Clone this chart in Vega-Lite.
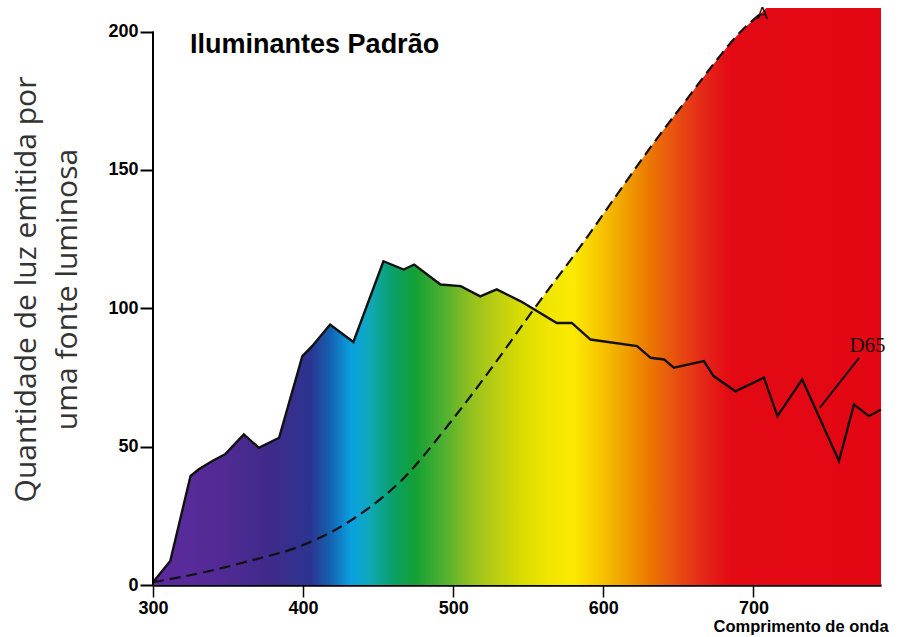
{
  "$schema": "https://vega.github.io/schema/vega-lite/v6.json",
  "width": 728,
  "height": 577,
  "autosize": "none",
  "padding": {"left": 153, "top": 8, "right": 20, "bottom": 52},
  "background": "white",
  "config": {"view": {"stroke": null}},
  "datasets": {
    "d65": [
      {"nm": 300, "v": 1}, {"nm": 311.5, "v": 8.7}, {"nm": 325, "v": 39.4}, {"nm": 330.5, "v": 41.8},
      {"nm": 339.5, "v": 44.8}, {"nm": 348, "v": 47.2}, {"nm": 360.5, "v": 54.4}, {"nm": 370.5, "v": 49.6},
      {"nm": 384, "v": 53.2}, {"nm": 399.5, "v": 82.7}, {"nm": 406, "v": 86.3}, {"nm": 418, "v": 94.1},
      {"nm": 433.5, "v": 87.8}, {"nm": 453.5, "v": 117}, {"nm": 467, "v": 114}, {"nm": 474, "v": 115.8},
      {"nm": 491.5, "v": 108.6}, {"nm": 505, "v": 108}, {"nm": 518, "v": 104.3}, {"nm": 529, "v": 106.8},
      {"nm": 545, "v": 102.5}, {"nm": 569, "v": 94.7}, {"nm": 579, "v": 94.7}, {"nm": 591.5, "v": 88.7},
      {"nm": 622.5, "v": 86.3}, {"nm": 631.5, "v": 82.1}, {"nm": 640.5, "v": 81.5}, {"nm": 647, "v": 78.5},
      {"nm": 667, "v": 80.9}, {"nm": 673.5, "v": 75.5}, {"nm": 688, "v": 70}, {"nm": 707, "v": 74.9},
      {"nm": 716, "v": 61}, {"nm": 732.5, "v": 74.3}, {"nm": 757, "v": 44.8}, {"nm": 767, "v": 65.2},
      {"nm": 777, "v": 61}, {"nm": 785, "v": 63.4}
    ],
    "a": [
      {"nm": 300, "v": 1}, {"nm": 331.5, "v": 4.3}, {"nm": 365, "v": 8.8}, {"nm": 398, "v": 14},
      {"nm": 420, "v": 19.5}, {"nm": 442.5, "v": 27.3}, {"nm": 465, "v": 37.5}, {"nm": 498, "v": 58.7},
      {"nm": 525, "v": 78}, {"nm": 553.5, "v": 99.5}, {"nm": 587, "v": 124}, {"nm": 609, "v": 141},
      {"nm": 631.5, "v": 158.2}, {"nm": 653.5, "v": 174}, {"nm": 676, "v": 190}, {"nm": 689, "v": 198.5},
      {"nm": 705, "v": 206.6}, {"nm": 740, "v": 226}, {"nm": 785, "v": 246}
    ]
  },
  "encoding": {
    "x": {
      "field": "nm", "type": "quantitative",
      "scale": {"domain": [300, 785], "nice": false, "zero": false},
      "axis": {
        "values": [300, 400, 500, 600, 700],
        "title": "Comprimento de onda",
        "titleX": 560, "titleY": 41, "titleAlign": "left", "titleBaseline": "middle",
        "titleFont": "Liberation Sans", "titleFontSize": 16.5, "titleFontWeight": "bold", "titleColor": "black",
        "labelFont": "Liberation Sans", "labelFontSize": 18, "labelFontWeight": "bold", "labelColor": "black",
        "labelPadding": 2, "tickSize": 12, "tickWidth": 1.5, "tickColor": "black",
        "domainColor": "black", "domainWidth": 2.5, "grid": false,
        "labelFlush": false, "labelOverlap": false,
        "encode": {"labels": {"update": {"dx": {"signal": "datum.value === 300 ? 5 : 0"}}}}
      }
    },
    "y": {
      "field": "v", "type": "quantitative",
      "scale": {"domain": [0, 208.5], "nice": false, "zero": false},
      "axis": {
        "values": [0, 50, 100, 150, 200],
        "title": ["Quantidade de luz emitida por", "uma fonte luminosa"],
        "titleFont": "Open Sans", "titleFontSize": 30, "titleFontWeight": "normal", "titleColor": "#333333",
        "titleLineHeight": 41, "titleX": -127, "titleY": 281, "titleAlign": "center", "titleBaseline": "middle",
        "labelFont": "Liberation Sans", "labelFontSize": 18, "labelFontWeight": "bold", "labelColor": "black",
        "labelPadding": 2, "tickSize": 13, "tickWidth": 2, "tickColor": "black",
        "domain": false, "grid": false, "labelFlush": false, "labelOverlap": false
      }
    }
  },
  "layer": [
    {
      "data": {"name": "a"},
      "mark": {
        "type": "area", "clip": true, "interpolate": "monotone",
        "color": {
          "gradient": "linear", "x1": 0, "x2": 1, "y1": 0, "y2": 0,
          "stops": [
            {"offset": 0, "color": "#5b2b9c"}, {"offset": 0.082, "color": "#542a96"},
            {"offset": 0.165, "color": "#3e2a8a"}, {"offset": 0.216, "color": "#2c3490"},
            {"offset": 0.243, "color": "#1560b0"}, {"offset": 0.272, "color": "#0aa0e0"},
            {"offset": 0.295, "color": "#10a8c0"}, {"offset": 0.326, "color": "#0aa070"},
            {"offset": 0.359, "color": "#12a035"}, {"offset": 0.400, "color": "#50b030"},
            {"offset": 0.435, "color": "#90c020"}, {"offset": 0.476, "color": "#c0d010"},
            {"offset": 0.505, "color": "#d8dc00"}, {"offset": 0.542, "color": "#f0e600"},
            {"offset": 0.577, "color": "#fcea00"}, {"offset": 0.612, "color": "#f8c800"},
            {"offset": 0.649, "color": "#f0a000"}, {"offset": 0.680, "color": "#ec7a00"},
            {"offset": 0.718, "color": "#e85010"}, {"offset": 0.755, "color": "#e42818"},
            {"offset": 0.792, "color": "#e30a14"}, {"offset": 1, "color": "#e30613"}
          ]
        }
      }
    },
    {
      "data": {"name": "d65"},
      "mark": {
        "type": "area", "clip": true,
        "color": {
          "gradient": "linear", "x1": 0, "x2": 1, "y1": 0, "y2": 0,
          "stops": [
            {"offset": 0, "color": "#5b2b9c"}, {"offset": 0.082, "color": "#542a96"},
            {"offset": 0.165, "color": "#3e2a8a"}, {"offset": 0.216, "color": "#2c3490"},
            {"offset": 0.243, "color": "#1560b0"}, {"offset": 0.272, "color": "#0aa0e0"},
            {"offset": 0.295, "color": "#10a8c0"}, {"offset": 0.326, "color": "#0aa070"},
            {"offset": 0.359, "color": "#12a035"}, {"offset": 0.400, "color": "#50b030"},
            {"offset": 0.435, "color": "#90c020"}, {"offset": 0.476, "color": "#c0d010"},
            {"offset": 0.505, "color": "#d8dc00"}, {"offset": 0.542, "color": "#f0e600"},
            {"offset": 0.577, "color": "#fcea00"}, {"offset": 0.612, "color": "#f8c800"},
            {"offset": 0.649, "color": "#f0a000"}, {"offset": 0.680, "color": "#ec7a00"},
            {"offset": 0.718, "color": "#e85010"}, {"offset": 0.755, "color": "#e42818"},
            {"offset": 0.792, "color": "#e30a14"}, {"offset": 1, "color": "#e30613"}
          ]
        }
      }
    },
    {
      "data": {"name": "d65"},
      "mark": {"type": "line", "color": "#111111", "strokeWidth": 2.4, "strokeJoin": "miter"}
    },
    {
      "data": {"name": "a"},
      "transform": [{"filter": "datum.nm <= 706"}],
      "mark": {"type": "line", "color": "#111111", "strokeWidth": 2.2, "strokeDash": [11, 6], "interpolate": "monotone"}
    },
    {
      "data": {"values": [{"nm": 300, "v": 0, "v2": 200}]},
      "mark": {"type": "rule", "color": "black", "strokeWidth": 2},
      "encoding": {"y2": {"field": "v2"}}
    },
    {
      "data": {"values": [{"nm": 744.2, "v": 64, "nm2": 770.4, "v2": 82.1}]},
      "mark": {"type": "rule", "color": "#111111", "strokeWidth": 2},
      "encoding": {"x2": {"field": "nm2"}, "y2": {"field": "v2"}}
    },
    {
      "data": {"values": [{"nm": 324.7, "v": 195.1, "label": "Iluminantes Padrão"}]},
      "mark": {"type": "text", "align": "left", "baseline": "middle", "font": "Liberation Sans", "fontSize": 27, "fontWeight": "bold", "color": "black"},
      "encoding": {"text": {"field": "label"}}
    },
    {
      "data": {"values": [{"nm": 706, "v": 204.6, "label": "A"}]},
      "mark": {"type": "text", "align": "center", "baseline": "alphabetic", "font": "Liberation Sans", "fontSize": 16, "color": "black"},
      "encoding": {"text": {"field": "label"}}
    },
    {
      "data": {"values": [{"nm": 776, "v": 84.3, "label": "D65"}]},
      "mark": {"type": "text", "align": "center", "baseline": "alphabetic", "font": "Liberation Serif", "fontSize": 21, "color": "#111111"},
      "encoding": {"text": {"field": "label"}}
    }
  ]
}
